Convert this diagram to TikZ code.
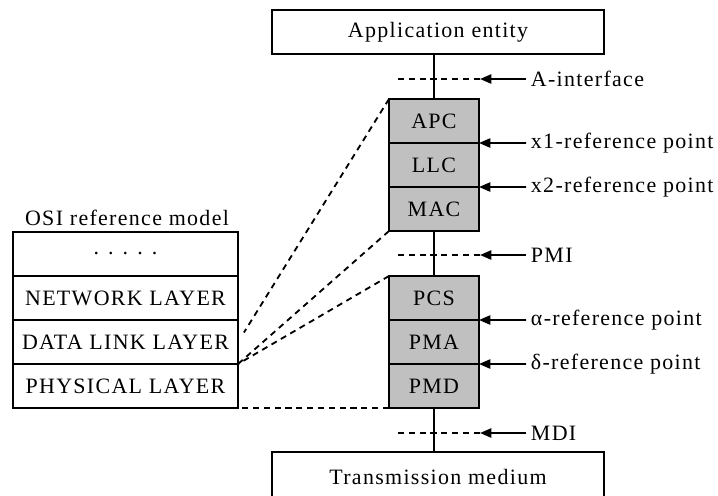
\documentclass[tikz,border=0pt]{standalone}
\usepackage{fontspec}
\setmainfont{Liberation Serif}[LetterSpace=6]
\usetikzlibrary{calc}
\usetikzlibrary{arrows.meta}
\definecolor{cellgray}{RGB}{192,192,192}

\tikzset{
	box/.style = {draw, line width=1.3pt, outer sep=0pt, minimum width=8.3cm, minimum height=1.1cm},
	cell/.style = {draw, line width=1.3pt, outer sep=0pt, fill=cellgray, minimum width=2.25cm, minimum height=1.1cm},
	layer/.style = {draw, line width=1.3pt, outer sep=0pt, minimum width=5.625cm, minimum height=1.1cm},
	lbl/.style = {anchor=west},
	ifline/.style = {line width=1.3pt, dash pattern=on 4.3pt off 3.4pt},
	mapline/.style = {line width=1.3pt, dash pattern=on 4.3pt off 3.4pt},
	reftip/.style = {line width=1.3pt, -{Triangle[length=8pt, width=6.5pt]}}
}

\begin{document}
\begin{tikzpicture}[x = 0.025cm, y = -0.025cm, every node/.style = {font=\fontsize{15.6pt}{18pt}\selectfont}]
				\useasboundingbox (0, 0) rectangle (718, 495);

				\node[box] (app) at (438, 32) {Application entity};
				\node[box, minimum height=1.25cm] (trans) at (438, 477) {Transmission medium};

				\node[cell] (apc) at (434, 121) {APC};
				\node[cell] (llc) at (434, 165) {LLC};
				\node[cell] (mac) at (434, 209) {MAC};
				\node[cell] (pcs) at (434, 298) {PCS};
				\node[cell] (pma) at (434, 342) {PMA};
				\node[cell] (pmd) at (434, 386) {PMD};

				\node[] (osi) at (127, 218) {OSI reference model};
				\node[layer] (dots) at (125.5, 254) {. . . . .};
				\node[layer] (net) at (125.5, 298) {NETWORK LAYER};
				\node[layer] (dl) at (125.5, 342) {DATA LINK LAYER};
				\node[layer] (phy) at (125.5, 386) {PHYSICAL LAYER};

				\draw[line width=1.3pt] (apc.north |- app.south)--(apc.north);
				\draw[line width=1.3pt] (mac.south)--(pcs.north);
				\draw[line width=1.3pt] (pmd.south)--(pmd.south |- trans.north);

				\foreach \name/\y/\text in {ai/79/A-interface, pmi/255/PMI, mdi/433/MDI} {
					\coordinate[](\name-l) at (398, \y);
					\coordinate[](\name-r) at (480, \y);
					\draw[ifline] (\name-l)--(\name-r);
					\node[lbl] (\name) at (526, \y) {\text};
					\draw[reftip] (\name.west)--(\name-r);
				}

				\node[lbl] (xone) at (526, 143) {x1-reference point};
				\node[lbl] (xtwo) at (526, 187) {x2-reference point};
				\node[lbl] (alpha) at (526, 320) {α-reference point};
				\node[lbl] (delta) at (526, 364) {δ-reference point};
				\draw[reftip] (xone.west)--(apc.south east);
				\draw[reftip] (xtwo.west)--(llc.south east);
				\draw[reftip] (alpha.west)--(pcs.south east);
				\draw[reftip] (delta.west)--(pma.south east);

				\draw[mapline, shorten >=0.28cm] (apc.north west)--(dl.east);
				\draw[mapline] (mac.south west)--(phy.north east);
				\draw[mapline] (pcs.north west)--(phy.north east);
				\draw[mapline] (pmd.south west)--(phy.south east);
			\end{tikzpicture}
\end{document}
